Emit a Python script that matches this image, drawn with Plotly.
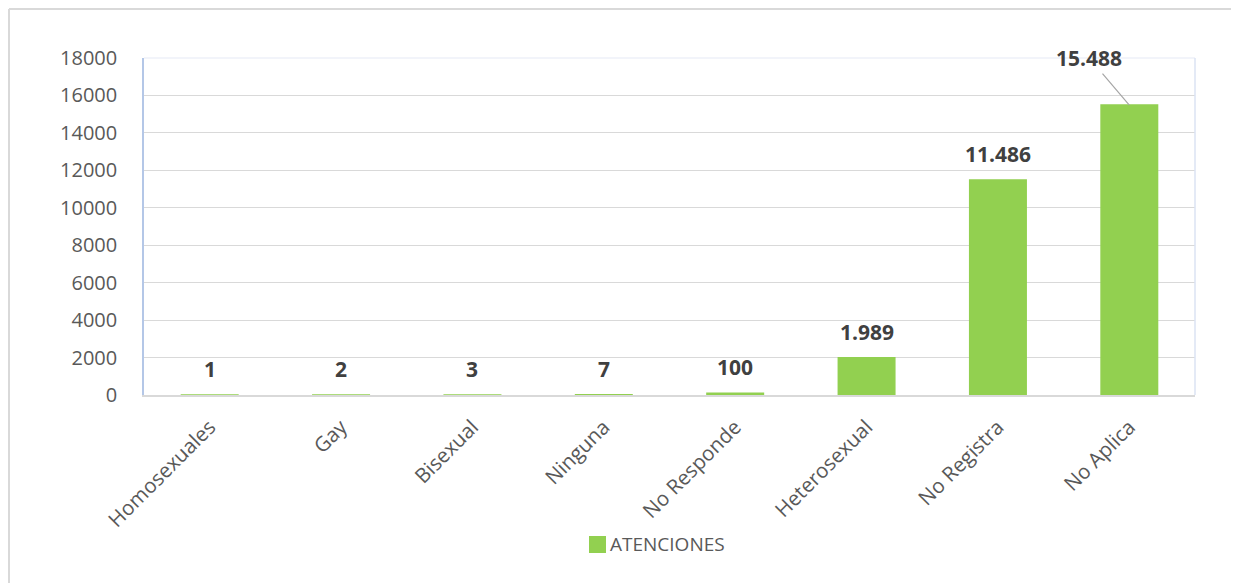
import plotly.graph_objects as go

categories = ["Homosexuales", "Gay", "Bisexual", "Ninguna", "No Responde",
              "Heterosexual", "No Registra", "No Aplica"]
atenciones = [1, 2, 3, 7, 100, 1989, 11486, 15488]
y_ticks = [0, 2000, 4000, 6000, 8000, 10000, 12000, 14000, 16000, 18000]
series_name = "ATENCIONES"

GREEN = "#92D050"
TXT = "#595959"
FONT = "Open Sans"

# page is rendered with an 8px body margin; work in page pixels
OFF = 8
W, H = 1239, 583
PL, PR, PT, PB = 144, 1195, 58, 395  # plot area in page pixels
L, T = PL - OFF, PT - OFF
R = W - (PR - OFF)
B = H - (PB - OFF)
pw, ph = PR - PL, PB - PT

def px2paper_x(px):
    return (px - PL) / pw

def px2paper_y(py):
    return (PB - py) / ph

def fmt(v):
    return f"{v:,}".replace(",", ".")

fig = go.Figure()
fig.add_trace(go.Bar(
    x=categories, y=atenciones, name=series_name,
    marker=dict(color=GREEN, line=dict(color=GREEN, width=1.5)),
    width=0.43, showlegend=False,
))

LBL_FONT = dict(family=FONT, size=21, color="#404040", weight="bold")
annotations = []
for i, (c, v) in enumerate(zip(categories, atenciones)):
    if i == len(categories) - 1:
        annotations.append(dict(
            x=c, y=v, xref="x", yref="y", text=fmt(v),
            showarrow=True, arrowhead=0, arrowwidth=1.2, arrowcolor="#a6a6a6",
            ax=-40, ay=-47, standoff=0, font=LBL_FONT,
        ))
    else:
        annotations.append(dict(
            x=c, y=v, xref="x", yref="y", text=fmt(v), showarrow=False,
            yanchor="bottom", yshift=10, font=LBL_FONT,
        ))

# custom legend (square + name)
annotations.append(dict(
    x=px2paper_x(608), y=px2paper_y(544), xref="paper", yref="paper",
    xanchor="left", yanchor="middle", showarrow=False, text=series_name,
    font=dict(family=FONT, size=19, color=TXT),
))

shapes = [
    # outer chart border (top and left visible)
    dict(type="line", xref="paper", yref="paper",
         x0=px2paper_x(9), x1=px2paper_x(1300), y0=px2paper_y(9), y1=px2paper_y(9),
         line=dict(color="#d9d9d9", width=2)),
    dict(type="line", xref="paper", yref="paper",
         x0=px2paper_x(9), x1=px2paper_x(9), y0=px2paper_y(9), y1=px2paper_y(650),
         line=dict(color="#d9d9d9", width=2)),
    # plot area border top/right
    dict(type="line", xref="paper", yref="paper", x0=0, x1=1, y0=1, y1=1,
         line=dict(color="#eef1f8", width=1.5)),
    dict(type="line", xref="paper", yref="paper", x0=1, x1=1, y0=0, y1=1,
         line=dict(color="#dbe3f3", width=1.5)),
    # legend swatch
    dict(type="rect", xref="paper", yref="paper",
         x0=px2paper_x(589), x1=px2paper_x(606), y0=px2paper_y(553), y1=px2paper_y(536),
         fillcolor=GREEN, line=dict(color=GREEN, width=0)),
]

fig.update_layout(
    width=W, height=H,
    margin=dict(l=L, r=R, t=T, b=B),
    paper_bgcolor="white", plot_bgcolor="white",
    font=dict(family=FONT, color=TXT, size=19),
    bargap=0.57,
    showlegend=False,
    annotations=annotations,
    shapes=shapes,
)
fig.update_yaxes(
    range=[0, 18000], tickvals=y_ticks, ticktext=[str(t) for t in y_ticks],
    showgrid=True, gridcolor="#d9d9d9", gridwidth=1.3,
    zeroline=False,
    showline=True, linecolor="#b4c7e7", linewidth=1.5,
    tickfont=dict(family=FONT, size=20, color=TXT),
    ticklabelstandoff=21,
)
fig.update_xaxes(
    tickangle=-45, showgrid=False,
    showline=True, linecolor="#d9d9d9", linewidth=2,
    tickfont=dict(family=FONT, size=20.5, color=TXT),
    ticklabelstandoff=10,
)

fig.write_html("out.html")
